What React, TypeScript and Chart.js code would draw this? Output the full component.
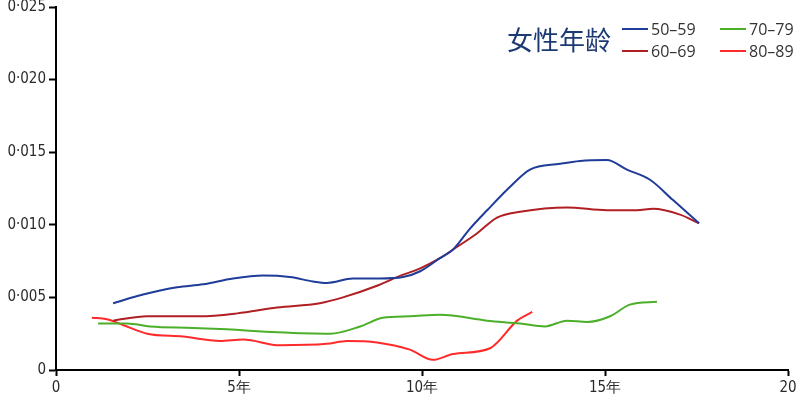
import React, { useEffect, useRef } from "react";
import { Chart, registerables } from "chart.js";

Chart.register(...registerables);

const legendTitle = "女性年龄";
const seriesLabels = ["50–59", "60–69", "70–79", "80–89"];
const seriesColors = ["#1f3c98", "#b01f24", "#4caf2a", "#ff2a2a"];

const xTickLabels: Record<number, string> = { 0: "0", 5: "5年", 10: "10年", 15: "15年", 20: "20" };

const x5059 = [1.56, 2.38, 3.31, 4.02, 4.84, 5.66, 6.39, 7.02, 7.4, 8.11, 8.85, 9.48, 9.95, 10.49, 10.85, 11.3, 11.78, 12.4, 12.95, 13.77, 14.32, 15.05, 15.6, 16.23, 16.86, 17.57];
const y5059 = [0.0046, 0.0052, 0.0057, 0.0059, 0.0063, 0.0065, 0.0064, 0.0061, 0.006, 0.0063, 0.0063, 0.0064, 0.0068, 0.0077, 0.0083, 0.0097, 0.011, 0.0126, 0.0138, 0.0142, 0.0144, 0.01446, 0.0138, 0.0131, 0.0117, 0.0101];

const x6069 = [1.56, 2.49, 3.93, 4.95, 6.04, 7.21, 7.84, 8.77, 9.32, 9.95, 10.49, 10.85, 11.5, 12.05, 12.68, 13.96, 15.05, 15.87, 16.31, 17.05, 17.57];
const y6069 = [0.0034, 0.0037, 0.0037, 0.0039, 0.0043, 0.0046, 0.005, 0.0058, 0.0064, 0.007, 0.0077, 0.0083, 0.0094, 0.0105, 0.0109, 0.0112, 0.011, 0.011, 0.0111, 0.0107, 0.0101];

const x7079 = [1.15, 1.94, 2.57, 3.74, 4.67, 6.04, 7.49, 8.31, 8.93, 9.67, 10.49, 11.78, 12.68, 13.36, 13.96, 14.51, 15.14, 15.68, 16.42];
const y7079 = [0.0032, 0.0032, 0.003, 0.0029, 0.0028, 0.0026, 0.0025, 0.003, 0.0036, 0.0037, 0.0038, 0.0034, 0.0032, 0.003, 0.0034, 0.0033, 0.0037, 0.0045, 0.0047];

const x8089 = [0.98, 1.39, 1.83, 2.49, 3.47, 4.48, 5.11, 6.12, 7.4, 7.95, 8.77, 9.67, 10.3, 10.85, 11.86, 12.6, 13.01];
const y8089 = [0.0036, 0.0035, 0.0031, 0.0025, 0.0023, 0.002, 0.0021, 0.0017, 0.0018, 0.002, 0.0019, 0.0014, 0.0007, 0.0011, 0.0015, 0.0034, 0.004];

const toPoints = (xs: number[], ys: number[]) => xs.map((x, i) => ({ x, y: ys[i] }));

const tickFont = "'DejaVu Sans Condensed', sans-serif";

const legendPlugin = {
  id: "customLegend",
  afterDraw(chart: any) {
    const ctx = chart.ctx;
    ctx.save();
    ctx.fillStyle = "#1c3a72";
    ctx.font = "26px 'Noto Sans CJK SC'";
    ctx.textBaseline = "middle";
    ctx.textAlign = "left";
    ctx.fillText(legendTitle, 507, 40);
    const pos = [
      [622, 29],
      [622, 51],
      [720, 29],
      [720, 51],
    ];
    chart.data.datasets.forEach((ds: any, i: number) => {
      const [lx, ly] = pos[i];
      ctx.strokeStyle = ds.borderColor;
      ctx.lineWidth = 2;
      ctx.beginPath();
      ctx.moveTo(lx, ly);
      ctx.lineTo(lx + 26, ly);
      ctx.stroke();
      ctx.fillStyle = "#333333";
      ctx.font = "16px 'Open Sans'";
      ctx.fillText(ds.label, lx + 29, ly + 1);
    });
    ctx.restore();
  },
};

export default function App() {
  const ref = useRef<HTMLCanvasElement | null>(null);
  useEffect(() => {
    document.body.style.margin = "0";
    if (!ref.current) return;
    const xs = [x5059, x6069, x7079, x8089];
    const ys = [y5059, y6069, y7079, y8089];
    const chart = new Chart(ref.current, {
      type: "line",
      data: {
        datasets: seriesLabels.map((label, i) => ({
          label,
          data: toPoints(xs[i], ys[i]),
          borderColor: seriesColors[i],
          backgroundColor: seriesColors[i],
          borderWidth: 2,
          pointRadius: 0,
          tension: 0.4,
          cubicInterpolationMode: "monotone" as const,
          fill: false,
        })),
      },
      options: {
        responsive: false,
        animation: false,
        layout: { padding: { top: 7, right: 12, left: 0, bottom: 0 } },
        plugins: { legend: { display: false }, tooltip: { enabled: false } },
        scales: {
          x: {
            type: "linear",
            min: 0,
            max: 20,
            afterFit: (s: any) => {
              s.height = 47;
              s.paddingLeft = 0;
              s.paddingRight = 0;
            },
            ticks: {
              stepSize: 5,
              color: "#2a2a2a",
              font: { family: tickFont, size: 15 },
              padding: 3,
              maxRotation: 0,
              callback: (v: any) => xTickLabels[v as number] ?? "",
            },
            grid: {
              drawOnChartArea: false,
              drawTicks: true,
              tickLength: 6,
              tickWidth: 2,
              color: "#000000",
            },
            border: { display: true, color: "#000000", width: 2 },
          },
          y: {
            type: "linear",
            min: 0,
            max: 0.025,
            afterFit: (s: any) => {
              s.width = 56;
              s.paddingTop = 0;
              s.paddingBottom = 0;
            },
            ticks: {
              stepSize: 0.005,
              color: "#2a2a2a",
              font: { family: tickFont, size: 15 },
              padding: 3,
              callback: (v: any) => (Math.abs(v) < 1e-9 ? "0" : Number(v).toFixed(3).replace(".", "·")),
            },
            grid: {
              drawOnChartArea: false,
              drawTicks: true,
              tickLength: 7,
              tickWidth: 2,
              color: "#000000",
            },
            border: { display: true, color: "#000000", width: 2 },
          },
        },
      },
      plugins: [legendPlugin],
    });
    return () => chart.destroy();
  }, []);
  return (
    <div style={{ position: "fixed", left: 0, top: 0, width: 800, height: 417, background: "#fff" }}>
      <canvas ref={ref} width={800} height={417} style={{ display: "block" }} />
    </div>
  );
}
